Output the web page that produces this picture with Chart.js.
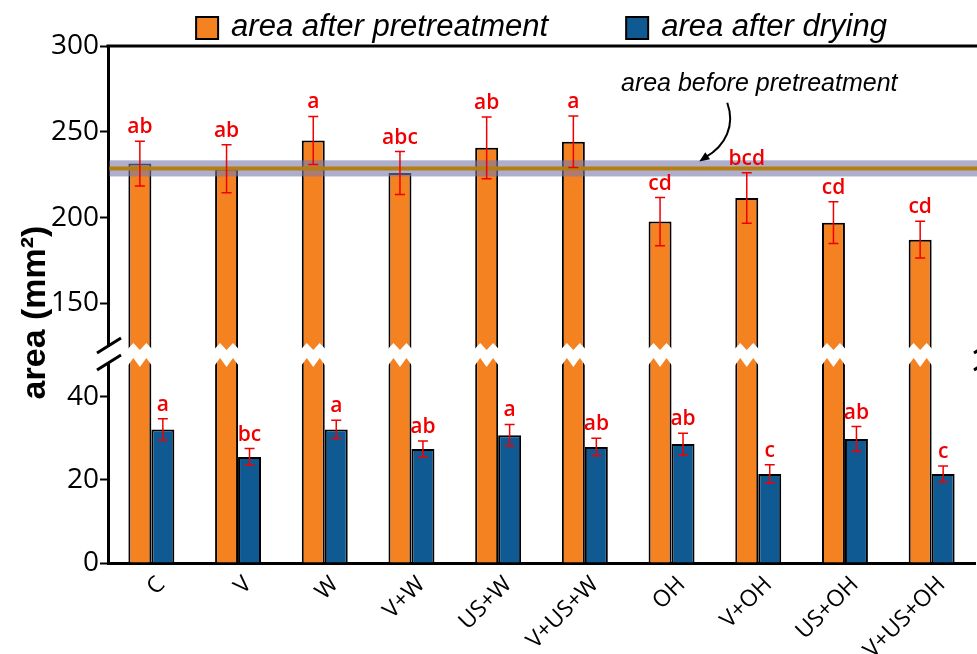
<!DOCTYPE html>
<html lang="en">
<head>
<meta charset="UTF-8">
<title>Sample area after pretreatment and drying</title>
<script src="https://cdn.jsdelivr.net/npm/chart.js"></script>
<style>
    body {
        margin: 0;
        background: #fff;
    }
    #wrap {
        width: 977px;
        height: 654px;
    }
</style>
</head>
<body>
<div id="wrap"><canvas id="areaChart" width="977" height="654"></canvas></div>

<script>
var categories = ['C', 'V', 'W', 'V+W', 'US+W', 'V+US+W', 'OH', 'V+OH', 'US+OH', 'V+US+OH'];

// area after pretreatment (mm2), standard deviation and significance letters
var pretreatArea = [231.5, 228.5, 245, 226, 240.7, 244.2, 197.7, 211.4, 197.1, 187.2];
var pretreatErr = [13, 14, 14, 12.5, 18, 15, 14, 14.7, 12.2, 10.7];
var pretreatGroups = ['ab', 'ab', 'a', 'abc', 'ab', 'a', 'cd', 'bcd', 'cd', 'cd'];

// area after drying (mm2)
var driedArea = [32.1, 25.5, 32.1, 27.4, 30.7, 27.9, 28.6, 21.4, 29.8, 21.4];
var driedErr = [2.6, 2, 2.2, 1.9, 2.6, 2.1, 2.6, 2.2, 3, 1.9];
var driedGroups = ['a', 'bc', 'a', 'ab', 'a', 'ab', 'ab', 'c', 'ab', 'c'];

// area before pretreatment, mean and spread
var areaBefore = 228.7;
var areaBeforeSd = 4.7;

var upperTicks = [150, 200, 250, 300];
var lowerTicks = [0, 20, 40];

var ORANGE = '#F58220';
var BLUE = '#105A93';
var RED = '#F00000';

function drawErrors(ctx, meta, scale, values, errs, groups) {
    ctx.save();
    ctx.strokeStyle = RED;
    ctx.lineWidth = 1.5;
    ctx.fillStyle = RED;
    ctx.font = '600 21px "Open Sans"';
    ctx.textAlign = 'center';
    ctx.textBaseline = 'alphabetic';
    meta.data.forEach(function (bar, i) {
        var x = bar.x;
        var hi = scale.getPixelForValue(values[i] + errs[i]);
        var lo = scale.getPixelForValue(values[i] - errs[i]);
        ctx.beginPath();
        ctx.moveTo(x, hi); ctx.lineTo(x, lo);
        ctx.moveTo(x - 5, hi); ctx.lineTo(x + 5, hi);
        ctx.moveTo(x - 5, lo); ctx.lineTo(x + 5, lo);
        ctx.stroke();
        ctx.fillText(groups[i], x, hi - 8);
    });
    ctx.restore();
}

const brokenAxis = {
    id: 'brokenAxis',
    afterDatasetsDraw(chart) {
        var ctx = chart.ctx;
        var area = chart.chartArea;
        var yTop = chart.scales.yTop;
        var yBottom = chart.scales.yBottom;
        var cut = (yTop.bottom + yBottom.top) / 2;

        // white zigzag gap through the tall bars
        ctx.save();
        ctx.fillStyle = '#fff';
        chart.getDatasetMeta(0).data.forEach(function (bar) {
            var l = bar.x - bar.width / 2 - 1.5;
            var w = bar.width + 3;
            var xs = [l, l + w / 4, l + w / 2, l + 3 * w / 4, l + w];
            var topEdge = [-5, -12, -5, -12, -5];
            var botEdge = [12, 3, 12, 3, 12];
            ctx.beginPath();
            xs.forEach(function (x, k) {
                if (k === 0) ctx.moveTo(x, cut + topEdge[k]); else ctx.lineTo(x, cut + topEdge[k]);
            });
            for (var k = xs.length - 1; k >= 0; k--) ctx.lineTo(xs[k], cut + botEdge[k]);
            ctx.closePath();
            ctx.fill();
        });

        // area before pretreatment: band and mean line
        var bandTop = yTop.getPixelForValue(areaBefore + areaBeforeSd);
        var bandBot = yTop.getPixelForValue(areaBefore - areaBeforeSd);
        ctx.fillStyle = 'rgba(120, 120, 172, 0.6)';
        ctx.fillRect(area.left + 1.5, bandTop, chart.width - area.left, bandBot - bandTop);
        var yMean = yTop.getPixelForValue(areaBefore);
        ctx.strokeStyle = '#B47E12';
        ctx.lineWidth = 4;
        ctx.beginPath();
        ctx.moveTo(area.left + 1.5, yMean);
        ctx.lineTo(chart.width, yMean);
        ctx.stroke();
        ctx.restore();

        drawErrors(ctx, chart.getDatasetMeta(0), yTop, pretreatArea, pretreatErr, pretreatGroups);
        drawErrors(ctx, chart.getDatasetMeta(1), yBottom, driedArea, driedErr, driedGroups);
    },
    afterDraw(chart) {
        var ctx = chart.ctx;
        var area = chart.chartArea;
        var yTop = chart.scales.yTop;
        var yBottom = chart.scales.yBottom;
        var xScale = chart.scales.x;
        var cut = (yTop.bottom + yBottom.top) / 2;
        ctx.save();

        // top frame line
        ctx.strokeStyle = '#000';
        ctx.lineWidth = 3;
        ctx.beginPath();
        ctx.moveTo(area.left - 1.5, area.top);
        ctx.lineTo(chart.width, area.top);
        ctx.stroke();

        // break marks on both sides
        ctx.fillStyle = '#fff';
        ctx.fillRect(area.left - 3, cut - 8, 6, 16);
        ctx.lineWidth = 3;
        [area.left, chart.width + 8].forEach(function (x) {
            ctx.beginPath();
            ctx.moveTo(x - 11, cut - 2); ctx.lineTo(x + 13, cut - 17);
            ctx.moveTo(x - 11, cut + 15); ctx.lineTo(x + 13, cut);
            ctx.stroke();
        });

        // legend
        var items = [
            { text: chart.data.datasets[0].label, color: ORANGE },
            { text: chart.data.datasets[1].label, color: BLUE }
        ];
        ctx.font = 'italic 31px "Liberation Sans"';
        ctx.textBaseline = 'middle';
        ctx.textAlign = 'left';
        var box = 22, gapText = 13, gapItem = 78;
        var total = 0;
        items.forEach(function (it, k) {
            it.w = box + gapText + ctx.measureText(it.text).width;
            total += it.w + (k ? gapItem : 0);
        });
        var lx = (area.left + area.right) / 2 - total / 2;
        var ly = area.top - 18;
        items.forEach(function (it) {
            ctx.fillStyle = it.color;
            ctx.fillRect(lx, ly - box / 2, box, box);
            ctx.strokeStyle = '#000';
            ctx.lineWidth = 2;
            ctx.strokeRect(lx, ly - box / 2, box, box);
            ctx.fillStyle = '#000';
            ctx.fillText(it.text, lx + box + gapText, ly - 1);
            lx += it.w + gapItem;
        });

        // y axis title
        ctx.save();
        ctx.translate(36, (area.top + area.bottom) / 2 + 8);
        ctx.rotate(-Math.PI / 2);
        ctx.textAlign = 'center';
        ctx.font = 'bold 34px "Liberation Sans"';
        ctx.fillText('area (mm²)', 0, 0);
        ctx.restore();

        // note for the reference line, with a curved arrow
        var tx = xScale.getPixelForValue(7) + 1;
        var ty = yTop.getPixelForValue(278);
        ctx.font = 'italic 25px "Liberation Sans"';
        ctx.textAlign = 'center';
        ctx.fillText('area before pretreatment', tx, ty);
        var yMean = yTop.getPixelForValue(areaBefore);
        var sx = tx - 32, sy = ty + 19;
        var ex = tx - 60, ey = yMean - 7;
        ctx.strokeStyle = '#000';
        ctx.lineWidth = 2;
        ctx.beginPath();
        ctx.moveTo(sx, sy);
        ctx.bezierCurveTo(sx + 8, sy + 22, sx - 1, ey - 16, ex + 6, ey - 4);
        ctx.stroke();
        var ang = Math.atan2(ey - (ey - 4), ex - (ex + 6));
        ctx.beginPath();
        ctx.moveTo(ex, ey);
        ctx.lineTo(ex - 11 * Math.cos(ang - 0.4), ey - 11 * Math.sin(ang - 0.4));
        ctx.lineTo(ex - 11 * Math.cos(ang + 0.4), ey - 11 * Math.sin(ang + 0.4));
        ctx.closePath();
        ctx.fill();
        ctx.restore();
    }
};

var ctx = document.getElementById('areaChart').getContext('2d');
var yTickFont = { family: 'Open Sans', size: 28 };

var chart = new Chart(ctx, {
    type: 'bar',
    data: {
        labels: categories,
        datasets: [
            {
                label: 'area after pretreatment',
                data: pretreatArea,
                yAxisID: 'yTop',
                stack: 'pre',
                backgroundColor: ORANGE,
                borderColor: '#000',
                borderWidth: 2,
                clip: 0
            },
            {
                label: 'area after drying',
                data: driedArea,
                yAxisID: 'yBottom',
                stack: 'dry',
                backgroundColor: BLUE,
                borderColor: '#000',
                borderWidth: 2,
                clip: 0
            },
            {
                // lower part of the pretreatment bars, below the axis break
                label: 'area after pretreatment',
                data: pretreatArea,
                yAxisID: 'yBottom',
                stack: 'pre',
                backgroundColor: ORANGE,
                borderColor: '#000',
                borderWidth: 2,
                clip: 0
            }
        ]
    },
    options: {
        responsive: false,
        animation: false,
        categoryPercentage: 0.53,
        barPercentage: 1,
        layout: { padding: { top: 46, left: 0, right: 2, bottom: 0 } },
        plugins: {
            legend: { display: false },
            tooltip: { enabled: false }
        },
        scales: {
            x: {
                grid: { display: false },
                border: { color: '#000', width: 3 },
                ticks: {
                    color: '#000',
                    font: { family: 'Open Sans', size: 23 },
                    minRotation: 45,
                    maxRotation: 45,
                    padding: 0,
                    labelOffset: 10
                },
                afterFit: function (s) { s.height = 91; }
            },
            // lower segment first so the stacked layout puts it under the upper one
            yBottom: {
                type: 'linear',
                position: 'left',
                stack: 'area',
                stackWeight: 208,
                stacked: false,
                min: 0,
                max: 50,
                afterBuildTicks: function (s) { s.ticks = lowerTicks.map(function (v) { return { value: v }; }); },
                grid: { drawOnChartArea: false, tickLength: 8, tickWidth: 2, color: '#000' },
                border: { color: '#000', width: 3 },
                ticks: { color: '#000', font: yTickFont, padding: 1 },
                afterFit: function (s) { s.width = 108; }
            },
            yTop: {
                type: 'linear',
                position: 'left',
                stack: 'area',
                stackWeight: 309,
                stacked: false,
                min: 120,
                max: 300,
                afterBuildTicks: function (s) { s.ticks = upperTicks.map(function (v) { return { value: v }; }); },
                grid: { drawOnChartArea: false, tickLength: 8, tickWidth: 2, color: '#000' },
                border: { color: '#000', width: 3 },
                ticks: { color: '#000', font: yTickFont, padding: 1 },
                afterFit: function (s) { s.width = 108; }
            }
        }
    },
    plugins: [brokenAxis]
});
</script>
</body>
</html>
